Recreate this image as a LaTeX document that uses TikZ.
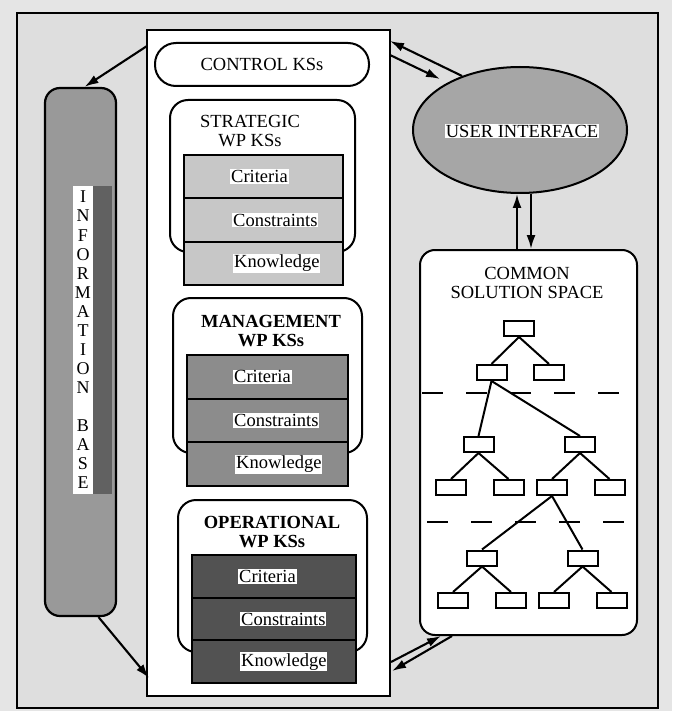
\documentclass[tikz,border=0pt]{standalone}
\usepackage{fontspec}
\setmainfont{Liberation Serif}
\usetikzlibrary{shapes.geometric,arrows.meta,calc}
\begin{document}
\begin{tikzpicture}[x=1pt,y=-1pt,
  txt/.style={font=\fontsize{18.5}{19}\selectfont},
  arr/.style={line width=2.1pt,-{Latex[length=14pt,width=9pt]}},
  frame/.style={draw,line width=2.2pt,inner sep=0pt},
  rbox/.style={draw,line width=2pt,fill=white,inner sep=0pt},
  rowbox/.style={draw,line width=2pt,inner sep=0pt},
  rowtxt/.style={font=\fontsize{18.5}{19}\selectfont,fill=white,inner sep=1pt,anchor=west},
  tbox/.style={draw,line width=2pt,fill=white,minimum width=30pt,minimum height=15pt,inner sep=0pt},
  tedge/.style={line width=2pt},
  sep/.style={line width=2.4pt,dash pattern=on 21pt off 23pt},
]
\useasboundingbox (0,0) rectangle (672,711);
\fill[black!10] (0,0) rectangle (672,711);

% outer frame and central panel
\node[frame,fill=black!13,minimum width=641pt,minimum height=695pt] (frame) at (337.5,360.5) {};
\node[frame,fill=white,minimum width=243pt,minimum height=666pt] (panel) at (268.5,363) {};

% control KSs
\node[rbox,rounded corners=21pt,minimum width=214pt,minimum height=43pt,txt] (ctrl) at (262,64.5) {CONTROL KSs};

% strategic
\node[rbox,rounded corners=18pt,minimum width=185pt,minimum height=152pt] (strat) at (262.5,176) {};
\node[txt,align=center] (strattitle) at (250,131) {STRATEGIC\\WP KSs};
\node[rowbox,fill=black!22,minimum width=159pt,minimum height=43.3pt] (s1) at (263.5,176.7) {};
\node[rowbox,fill=black!22,minimum width=159pt,minimum height=43.3pt] (s2) at (263.5,220) {};
\node[rowbox,fill=black!22,minimum width=159pt,minimum height=43.3pt] (s3) at (263.5,263.3) {};
\node[rowtxt] (s1t) at (230,176.7) {Criteria};
\node[rowtxt] (s2t) at (232,220) {Constraints};
\node[rowtxt] (s3t) at (233,263.3) {Knowledge};

% management
\node[rbox,rounded corners=18pt,minimum width=189pt,minimum height=155pt] (mgmt) at (267.5,375.5) {};
\node[txt,align=center,font=\fontsize{18.5}{19}\selectfont\bfseries] (mgmttitle) at (271,331) {MANAGEMENT\\WP KSs};
\node[rowbox,fill=black!45,minimum width=161pt,minimum height=43.7pt] (m1) at (267.5,376.8) {};
\node[rowbox,fill=black!45,minimum width=161pt,minimum height=43.7pt] (m2) at (267.5,420.5) {};
\node[rowbox,fill=black!45,minimum width=161pt,minimum height=43.7pt] (m3) at (267.5,464.2) {};
\node[rowtxt] (m1t) at (233,376.8) {Criteria};
\node[rowtxt] (m2t) at (233,420.5) {Constraints};
\node[rowtxt] (m3t) at (235,464.2) {Knowledge};

% operational
\node[rbox,rounded corners=18pt,minimum width=189pt,minimum height=152pt] (oper) at (272.5,576) {};
\node[txt,align=center,font=\fontsize{18.5}{19}\selectfont\bfseries] (opertitle) at (272,532) {OPERATIONAL\\WP KSs};
\node[rowbox,fill=black!68,minimum width=164pt,minimum height=42.7pt] (o1) at (274,576.3) {};
\node[rowbox,fill=black!68,minimum width=164pt,minimum height=42.7pt] (o2) at (274,619) {};
\node[rowbox,fill=black!68,minimum width=164pt,minimum height=42.7pt] (o3) at (274,661.7) {};
\node[rowtxt] (o1t) at (238,576.3) {Criteria};
\node[rowtxt] (o2t) at (240,619) {Constraints};
\node[rowtxt] (o3t) at (240,661.7) {Knowledge};

% information base
\node[frame,fill=black!40,rounded corners=15pt,minimum width=71pt,minimum height=528pt] (ib) at (80.5,352) {};
\fill[white] (73,186) rectangle (93,494);
\fill[black!62] (93,186) rectangle (112,494);
\node[font=\fontsize{18}{19.07}\selectfont,align=center,inner sep=0pt] (ibtext) at (83,340)
  {I\\N\\F\\O\\R\\M\\A\\T\\I\\O\\N\\\mbox{}\\B\\A\\S\\E};

% user interface
\node[ellipse,draw,line width=2pt,fill=black!35,minimum width=214pt,minimum height=126pt,inner sep=0pt] (ui) at (520,130) {};
\node[txt,fill=white,inner sep=1pt] (uitext) at (522,131) {USER INTERFACE};

% common solution space
\node[rbox,rounded corners=15pt,minimum width=217pt,minimum height=385pt] (css) at (528.5,442.5) {};
\node[txt,align=center] (csstitle) at (527,283) {COMMON\\SOLUTION SPACE};

% tree
\node[tbox] (r)  at (519,328.5) {};
\node[tbox] (a1) at (491.5,372.5) {};
\node[tbox] (a2) at (549,372.5) {};
\node[tbox] (b1) at (478.5,444.5) {};
\node[tbox] (b2) at (580,444.5) {};
\node[tbox] (c1) at (451,487.5) {};
\node[tbox] (c2) at (508.5,487.5) {};
\node[tbox] (c3) at (552,487.5) {};
\node[tbox] (c4) at (609.5,487.5) {};
\node[tbox] (d1) at (482,558) {};
\node[tbox] (d2) at (582.5,558) {};
\node[tbox] (e1) at (453,600.5) {};
\node[tbox] (e2) at (511,600.5) {};
\node[tbox] (e3) at (554,600.5) {};
\node[tbox] (e4) at (611.5,600.5) {};
\foreach \p/\c in {r/a1,r/a2,a1/b1,a1/b2,b1/c1,b1/c2,b2/c3,b2/c4,c3/d1,c3/d2,d1/e1,d1/e2,d2/e3,d2/e4}
  \draw[tedge] (\p.south) -- (\c.north);
\coordinate (dl1a) at (422,393); \coordinate (dl1b) at (620,393);
\coordinate (dl2a) at (427,522); \coordinate (dl2b) at (625,522);
\draw[sep] (dl1a) -- (dl1b);
\draw[sep] (dl2a) -- (dl2b);

% connectors
\coordinate (pA) at (147,46);
\draw[arr] (pA) -- ([xshift=4pt]ib.north);
\coordinate (pB) at (149,678);
\draw[arr] ([xshift=18pt]ib.south) -- (pB);

\coordinate (pC) at (390,41);
\coordinate (uD) at (440,79);
\coordinate (pE) at (390,55);
\draw[arr] (ui.137) -- (pC);
\draw[arr] (pE) -- (uD);

\draw[arr] ([xshift=-11.5pt]css.north) -- ([xshift=-3pt]ui.south);
\draw[arr] ([xshift=11pt]ui.south) -- ([xshift=2.5pt]css.north);

\coordinate (pF) at (391,662);
\coordinate (pG) at (392,671);
\draw[arr] (pF) -- ([xshift=22pt]css.south west);
\draw[arr] ([xshift=33pt]css.south west) -- (pG);
\end{tikzpicture}
\end{document}
